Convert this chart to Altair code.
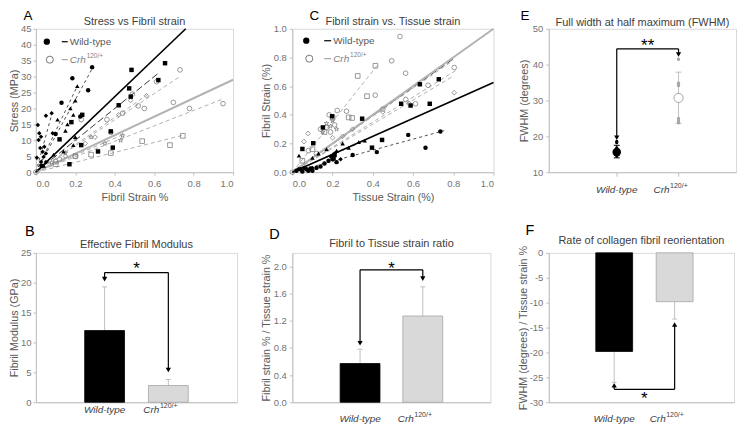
import altair as alt
import pandas as pd

FONT = "Liberation Sans"
WT_COLOR = "#000000"
CRH_FILL = "#d9d9d9"
CRH_EDGE = "#a6a6a6"
ERR_GREY = "#bfbfbf"
OPEN_GREY = "#7f7f7f"
DASH_GREY = "#a6a6a6"
STAR_PATH = "M0,-1L0.24,-0.33L0.95,-0.31L0.38,0.12L0.59,0.81L0,0.4L-0.59,0.81L-0.38,0.12L-0.95,-0.31L-0.24,-0.33Z"

# ---------------- Panel A : Stress vs Fibril strain ----------------
A_x_ticks = [0.0, 0.2, 0.4, 0.6, 0.8, 1.0]
A_y_ticks = [0, 5, 10, 15, 20, 25, 30, 35, 40, 45]

A_wt_diamond_x = [0.005, 0.01, 0.014, 0.017, 0.022, 0.026, 0.026, 0.034, 0.039, 0.043, 0.051, 0.051, 0.051, 0.08, 0.085]
A_wt_diamond_y = [4.5, 14.8, 10.1, 12.2, 7.6, 11.1, 3.2, 6.4, 4.8, 8.0, 5.9, 3.2, 17.7, 18.5, 12.2]
A_wt_circle_x = [0.03, 0.1, 0.13, 0.185, 0.225, 0.265, 0.285]
A_wt_circle_y = [2.0, 12.0, 21.8, 29.5, 17.5, 25.7, 32.9]
A_wt_triangle_x = [0.04, 0.09, 0.11, 0.14, 0.15, 0.16, 0.175, 0.19, 0.19, 0.2, 0.2, 0.21]
A_wt_triangle_y = [2.0, 5.5, 16.5, 6.5, 13.0, 15.0, 20.0, 8.5, 18.0, 11.0, 22.5, 27.0]
A_wt_square_x = [0.12, 0.17, 0.18, 0.23, 0.235, 0.315, 0.38, 0.39, 0.42, 0.473, 0.481, 0.485, 0.621, 0.655]
A_wt_square_y = [10.3, 2.5, 15.7, 8.5, 18.0, 6.5, 12.8, 7.7, 21.0, 26.3, 23.7, 32.1, 28.9, 34.2]

A_crh_circle_x = [0.0, 0.12, 0.2, 0.23, 0.36, 0.38, 0.44, 0.49, 0.519, 0.55, 0.612, 0.697, 0.731, 0.779, 0.949]
A_crh_circle_y = [0.0, 4.0, 5.0, 16.5, 16.5, 12.5, 18.5, 24.5, 20.8, 20.0, 28.4, 21.9, 32.1, 20.0, 21.5]
A_crh_diamond_x = [0.1, 0.15, 0.25, 0.3, 0.42, 0.48, 0.561]
A_crh_diamond_y = [3.5, 5.0, 9.0, 11.0, 18.0, 22.5, 24.0]
A_crh_square_x = [0.1, 0.2, 0.28, 0.38, 0.539, 0.68, 0.745]
A_crh_square_y = [2.5, 5.0, 5.5, 6.0, 9.75, 8.5, 11.4]
A_crh_star_x = [0.08, 0.15, 0.2, 0.28, 0.35, 0.43, 0.44]
A_crh_star_y = [3.0, 6.0, 10.5, 11.0, 9.0, 10.0, 11.5]

A_wt_fit_x2 = [0.08, 0.29, 0.21]
A_wt_fit_y2 = [18.0, 33.0, 27.0]
A_wt_longfit_x2 = [0.62]
A_wt_longfit_y2 = [31.0]
A_crh_fit_x2 = [0.73, 0.95, 0.57, 0.74, 0.45]
A_crh_fit_y2 = [30.0, 23.0, 24.5, 11.5, 12.0]
A_wt_mean_end = [0.76, 45.0]
A_crh_mean_end = [1.0, 29.0]

# ---------------- Panel C : Fibril strain vs Tissue strain ----------------
C_ticks = [0.0, 0.2, 0.4, 0.6, 0.8, 1.0]

C_wt_circle_x = [0.02, 0.04, 0.05, 0.06, 0.07, 0.08, 0.09, 0.1, 0.12, 0.14, 0.16, 0.18, 0.2, 0.22, 0.3, 0.42, 0.576, 0.662, 0.736]
C_wt_circle_y = [0.01, 0.02, 0.005, 0.03, 0.02, 0.01, 0.025, 0.01, 0.03, 0.04, 0.06, 0.08, 0.09, 0.07, 0.12, 0.14, 0.26, 0.171, 0.284]
C_wt_square_x = [0.05, 0.104, 0.152, 0.198, 0.205, 0.21, 0.347, 0.396, 0.446, 0.541, 0.588, 0.634, 0.683, 0.728]
C_wt_square_y = [0.162, 0.202, 0.312, 0.39, 0.1, 0.12, 0.373, 0.171, 0.225, 0.477, 0.465, 0.613, 0.477, 0.648]
C_wt_triangle_x = [0.033, 0.1, 0.13, 0.17, 0.2, 0.22, 0.25, 0.28, 0.33, 0.36]
C_wt_triangle_y = [0.115, 0.1, 0.13, 0.16, 0.12, 0.15, 0.2, 0.17, 0.21, 0.22]
C_wt_diamond_x = [0.03, 0.06, 0.08, 0.1, 0.19, 0.21, 0.24]
C_wt_diamond_y = [0.02, 0.03, 0.01, 0.03, 0.11, 0.13, 0.09]

C_crh_circle_x = [0.0, 0.08, 0.12, 0.14, 0.17, 0.183, 0.19, 0.21, 0.223, 0.269, 0.412, 0.45, 0.494, 0.535, 0.563, 0.564, 0.612, 0.675, 0.805]
C_crh_circle_y = [0.0, 0.15, 0.13, 0.3, 0.31, 0.4, 0.28, 0.33, 0.43, 0.425, 0.537, 0.44, 0.777, 0.946, 0.69, 0.507, 0.477, 0.606, 0.73]
C_crh_square_x = [0.05, 0.1, 0.16, 0.2, 0.28, 0.297, 0.325, 0.371, 0.413]
C_crh_square_y = [0.08, 0.16, 0.28, 0.38, 0.382, 0.378, 0.671, 0.53, 0.742]
C_crh_diamond_x = [0.058, 0.078, 0.2, 0.25, 0.3, 0.45, 0.58, 0.805]
C_crh_diamond_y = [0.213, 0.27, 0.24, 0.25, 0.3, 0.42, 0.48, 0.554]
C_crh_star_x = [0.15, 0.17, 0.19, 0.2, 0.22]
C_crh_star_y = [0.28, 0.34, 0.32, 0.36, 0.3]

C_wt_fit_x2 = [0.755, 0.36]
C_wt_fit_y2 = [0.29, 0.22]
C_wt_longfit_x2 = [0.8]
C_wt_longfit_y2 = [0.79]
C_crh_fit_x2 = [0.825, 0.8, 0.42, 0.8]
C_crh_fit_y2 = [0.72, 0.67, 0.74, 0.78]
C_wt_mean_end = [1.0, 0.625]
C_crh_mean_end = [1.0, 1.0]

# ---------------- Panel E : FWHM ----------------
E_y_ticks = [10, 20, 30, 40, 50]
E_wt_mean, E_wt_err = 15.6, [14.0, 17.5]
E_wt_points = [18.6, 18.2, 16.8, 15.2, 14.5]
E_crh_mean, E_crh_err = 30.7, [23.6, 37.9]
E_crh_points = [41.5, 34.8, 34.2, 25.0, 24.3, 23.8]
E_sig = dict(top=44.4, wt_tri=19.6, crh_tri=42.8, star=43.9, label="**")

# ---------------- Panels B, D, F : bars ----------------
B_y_ticks = [0, 5, 10, 15, 20, 25]
B_means = [12.0, 2.8]
B_err_end = [19.3, 3.8]
B_sig = dict(top=21.7, wt_tri=20.6, crh_tri=5.4, star=21.4, label="*")

D_y_ticks = [0.0, 0.4, 0.8, 1.2, 1.6, 2.0]
D_means = [0.57, 1.27]
D_err_end = [0.78, 1.70]
D_sig = dict(top=1.95, wt_tri=0.87, crh_tri=1.82, star=1.89, label="*")

F_y_ticks = [0, -5, -10, -15, -20, -25, -30]
F_means = [-19.8, -9.8]
F_err_end = [-26.0, -13.3]
F_sig = dict(top=-27.4, wt_tri=-26.6, crh_tri=-14.4, star=-30.4, label="*")

group_pos = [1, 2]


# ---------------- helpers ----------------
def pts_df(xs, ys, shape):
    return pd.DataFrame({"x": xs, "y": ys, "shape": [shape] * len(xs)})


def seg_df(x2s, y2s):
    return pd.DataFrame({"x": [0.0] * len(x2s), "y": [0.0] * len(x2s), "x2": x2s, "y2": y2s})


def seg_layer(df, X, Y, color, width, dash=None):
    kw = dict(color=color, strokeWidth=width)
    if dash:
        kw["strokeDash"] = dash
    return alt.Chart(df).mark_rule(**kw).encode(x=X, y=Y, x2="x2:Q", y2="y2:Q")


def pt_layer(df, X, Y, filled, color, size, sw=0.8):
    return alt.Chart(df).mark_point(filled=filled, size=size, strokeWidth=sw, opacity=1).encode(
        x=X, y=Y, shape=alt.Shape("shape:N", scale=None), color=alt.value(color))


def text_px(txt, dx, dy, size=10, style="normal", color="#404040", align="left", baseline="middle"):
    return alt.Chart(pd.DataFrame({"t": [txt]})).mark_text(
        font=FONT, fontSize=size, fontStyle=style, color=color, align=align, baseline=baseline
    ).encode(x=alt.value(dx), y=alt.value(dy), text="t:N")


def letter(txt, dx, dy, size=14.5):
    return text_px(txt, dx, dy, size=size, color="#000000", align="center")


def title_text(txt, W, dy):
    return text_px(txt, W / 2, dy, size=11, color="#404040", align="center")


def legend_layers(cx1, cy1, cx2, cy2, lx1, lx2, tx):
    wt_sym = alt.Chart(pd.DataFrame({"s": ["circle"]})).mark_point(filled=True, size=40, opacity=1, color="black").encode(
        x=alt.value(cx1), y=alt.value(cy1), shape=alt.Shape("s:N", scale=None))
    crh_sym = alt.Chart(pd.DataFrame({"s": ["circle"]})).mark_point(filled=False, size=50, opacity=1, color="#555555", strokeWidth=0.8).encode(
        x=alt.value(cx2), y=alt.value(cy2), shape=alt.Shape("s:N", scale=None))
    wt_ln = alt.Chart(pd.DataFrame({"s": [0]})).mark_rule(color="black", strokeWidth=1.2).encode(
        x=alt.value(lx1), x2=alt.value(lx2), y=alt.value(cy1))
    crh_ln = alt.Chart(pd.DataFrame({"s": [0]})).mark_rule(color=DASH_GREY, strokeWidth=1.2).encode(
        x=alt.value(lx1), x2=alt.value(lx2), y=alt.value(cy2))
    return [wt_sym, crh_sym, wt_ln, crh_ln,
            text_px("Wild-type", tx, cy1, size=10, color="#595959"),
            text_px("Crh", tx, cy2, size=10, style="italic", color="#7f7f7f"),
            text_px("120/+", tx + 17, cy2 - 4, size=6.5, color="#7f7f7f")]


def cat_labels(X, below, dx_crh=-9):
    wt = alt.Chart(pd.DataFrame({"x": [group_pos[0]], "t": ["Wild-type"]})).mark_text(
        font=FONT, fontSize=10, fontStyle="italic", color="#404040", baseline="middle").encode(
        x=X, y=alt.value(below), text="t:N")
    crh = alt.Chart(pd.DataFrame({"x": [group_pos[1]], "t": ["Crh"]})).mark_text(
        font=FONT, fontSize=10, fontStyle="italic", color="#404040", baseline="middle", align="right", dx=dx_crh).encode(
        x=X, y=alt.value(below), text="t:N")
    sup = alt.Chart(pd.DataFrame({"x": [group_pos[1]], "t": ["120/+"]})).mark_text(
        font=FONT, fontSize=7, color="#404040", baseline="middle", align="left", dx=dx_crh + 0.5, dy=-4).encode(
        x=X, y=alt.value(below), text="t:N")
    return [wt, crh, sup]


def sig_layers(X, Y, sig, up=False):
    top = sig["top"]
    vdf = pd.DataFrame({"x": group_pos, "y": [top, top], "y2": [sig["wt_tri"], sig["crh_tri"]]})
    hdf = pd.DataFrame({"x": [group_pos[0]], "x2": [group_pos[1]], "y": [top]})
    tdf = pd.DataFrame({"x": group_pos, "y": [sig["wt_tri"], sig["crh_tri"]],
                        "s": ["triangle-up" if up else "triangle-down"] * 2})
    sdf = pd.DataFrame({"x": [1.5], "y": [sig["star"]], "t": [sig["label"]]})
    v = alt.Chart(vdf).mark_rule(color="black", strokeWidth=1.2).encode(x=X, y=Y, y2="y2:Q")
    h = alt.Chart(hdf).mark_rule(color="black", strokeWidth=1.2).encode(x=X, x2="x2:Q", y=Y)
    t = alt.Chart(tdf).mark_point(filled=True, size=28, opacity=1, color="black").encode(
        x=X, y=Y, shape=alt.Shape("s:N", scale=None))
    s = alt.Chart(sdf).mark_text(font=FONT, fontSize=17, color="#000000", baseline="alphabetic").encode(
        x=X, y=Y, text="t:N")
    return [v, h, t, s]


# ---------------- Panel A ----------------
A_W, A_H = 198, 144
A_X = alt.X("x:Q", scale=alt.Scale(domain=[0, 1], nice=False, zero=False),
            axis=alt.Axis(values=A_x_ticks, format=".1f", title="Fibril Strain %", titlePadding=4, labelPadding=3))
A_Y = alt.Y("y:Q", scale=alt.Scale(domain=[0, 45], nice=False),
            axis=alt.Axis(values=A_y_ticks, title="Stress (MPa)", titlePadding=0.5, labelPadding=2))

A_layers = [
    seg_layer(seg_df(A_crh_fit_x2, A_crh_fit_y2), A_X, A_Y, DASH_GREY, 0.9, [4, 3]),
    seg_layer(seg_df(A_wt_fit_x2, A_wt_fit_y2), A_X, A_Y, "#222222", 0.8, [3, 3]),
    seg_layer(seg_df(A_wt_longfit_x2, A_wt_longfit_y2), A_X, A_Y, "#222222", 0.9, [7, 3]),
    seg_layer(seg_df([A_crh_mean_end[0]], [A_crh_mean_end[1]]), A_X, A_Y, "#b3b3b3", 2.0),
    seg_layer(seg_df([A_wt_mean_end[0]], [A_wt_mean_end[1]]), A_X, A_Y, "black", 1.6),
    pt_layer(pd.concat([pts_df(A_crh_circle_x, A_crh_circle_y, "circle"),
                        pts_df(A_crh_diamond_x, A_crh_diamond_y, "diamond"),
                        pts_df(A_crh_square_x, A_crh_square_y, "square"),
                        pts_df(A_crh_star_x, A_crh_star_y, STAR_PATH)]), A_X, A_Y, False, OPEN_GREY, 22),
    pt_layer(pd.concat([pts_df(A_wt_diamond_x, A_wt_diamond_y, "diamond"),
                        pts_df(A_wt_circle_x, A_wt_circle_y, "circle"),
                        pts_df(A_wt_triangle_x, A_wt_triangle_y, "triangle-up"),
                        pts_df(A_wt_square_x, A_wt_square_y, "square")]), A_X, A_Y, True, "black", 20),
    letter("A", -8, -12.5, 13.5),
    title_text("Stress vs Fibril strain", A_W, -6.5),
] + legend_layers(11, 13, 14, 31, 26, 32, 34)
panel_A = alt.layer(*A_layers).properties(width=A_W, height=A_H)

# ---------------- Panel C ----------------
C_W, C_H = 202, 144
C_X = alt.X("x:Q", scale=alt.Scale(domain=[0, 1], nice=False, zero=False),
            axis=alt.Axis(values=C_ticks, format=".1f", title="Tissue Strain (%)", titlePadding=4, labelPadding=3))
C_Y = alt.Y("y:Q", scale=alt.Scale(domain=[0, 1], nice=False),
            axis=alt.Axis(values=C_ticks, format=".1f", title="Fibril Strain (%)", titlePadding=2, labelPadding=3))
C_layers = [
    seg_layer(seg_df(C_crh_fit_x2, C_crh_fit_y2), C_X, C_Y, DASH_GREY, 0.9, [4, 3]),
    seg_layer(seg_df(C_wt_fit_x2, C_wt_fit_y2), C_X, C_Y, "#222222", 0.8, [3, 3]),
    seg_layer(seg_df(C_wt_longfit_x2, C_wt_longfit_y2), C_X, C_Y, "#222222", 0.9, [7, 3]),
    seg_layer(seg_df([C_crh_mean_end[0]], [C_crh_mean_end[1]]), C_X, C_Y, "#b3b3b3", 2.0),
    seg_layer(seg_df([C_wt_mean_end[0]], [C_wt_mean_end[1]]), C_X, C_Y, "black", 1.6),
    pt_layer(pd.concat([pts_df(C_crh_circle_x, C_crh_circle_y, "circle"),
                        pts_df(C_crh_diamond_x, C_crh_diamond_y, "diamond"),
                        pts_df(C_crh_square_x, C_crh_square_y, "square"),
                        pts_df(C_crh_star_x, C_crh_star_y, STAR_PATH)]), C_X, C_Y, False, OPEN_GREY, 22),
    pt_layer(pd.concat([pts_df(C_wt_diamond_x, C_wt_diamond_y, "diamond"),
                        pts_df(C_wt_circle_x, C_wt_circle_y, "circle"),
                        pts_df(C_wt_triangle_x, C_wt_triangle_y, "triangle-up"),
                        pts_df(C_wt_square_x, C_wt_square_y, "square")]), C_X, C_Y, True, "black", 20),
    letter("C", 22, -12.5, 13.5),
    title_text("Fibril strain vs. Tissue strain", C_W, -7),
] + legend_layers(14, 12, 17, 30, 32, 39, 41)
panel_C = alt.layer(*C_layers).properties(width=C_W, height=C_H)

# ---------------- Panel E ----------------
E_W, E_H = 188, 144
E_X = alt.X("x:Q", scale=alt.Scale(domain=[-0.1, 2.93], nice=False, zero=False),
            axis=alt.Axis(values=group_pos, labels=False, title=None, tickSize=4))
E_Y = alt.Y("y:Q", scale=alt.Scale(domain=[10, 50], nice=False, zero=False),
            axis=alt.Axis(values=E_y_ticks, title="FWHM (degrees)", titlePadding=3, labelPadding=3))
E_err = pd.DataFrame({"x": group_pos, "y": [E_wt_err[0], E_crh_err[0]], "y2": [E_wt_err[1], E_crh_err[1]],
                      "c": ["black", ERR_GREY]})
E_caps = pd.DataFrame({"x": group_pos * 2, "y": [E_wt_err[0], E_crh_err[0], E_wt_err[1], E_crh_err[1]],
                       "c": ["black", ERR_GREY, "black", ERR_GREY]})
E_small_wt = pd.DataFrame({"x": [1] * len(E_wt_points), "y": E_wt_points})
E_small_crh = pd.DataFrame({"x": [2] * len(E_crh_points), "y": E_crh_points})
E_layers = [
    alt.Chart(E_err).mark_rule(strokeWidth=1).encode(x=E_X, y=E_Y, y2="y2:Q", color=alt.Color("c:N", scale=None)),
    alt.Chart(E_caps).mark_tick(orient="horizontal", size=6, thickness=1, opacity=1).encode(
        x=E_X, y=E_Y, color=alt.Color("c:N", scale=None)),
    alt.Chart(E_small_crh).mark_point(filled=True, size=12, opacity=1, color="#a6a6a6").encode(x=E_X, y=E_Y),
    alt.Chart(E_small_wt).mark_point(filled=True, size=10, opacity=1, color="black").encode(x=E_X, y=E_Y),
    alt.Chart(pd.DataFrame({"x": [1], "y": [E_wt_mean]})).mark_point(filled=True, size=75, opacity=1, color="black").encode(x=E_X, y=E_Y),
    alt.Chart(pd.DataFrame({"x": [2], "y": [E_crh_mean]})).mark_point(filled=True, size=85, opacity=1, color="white",
                                                                         stroke="#a6a6a6", strokeWidth=1).encode(x=E_X, y=E_Y),
    letter("E", -24, -12.5, 13.5),
    title_text("Full width at half maximum (FWHM)", E_W, -6),
] + sig_layers(E_X, E_Y, E_sig) + cat_labels(E_X, E_H + 18)
panel_E = alt.layer(*E_layers).properties(width=E_W, height=E_H)


# ---------------- bar panels ----------------
def bar_panel(name, title, ytitle, W, H, xdom, ydom, yticks, yfmt, means, err_end, sig, up, barsize,
              lab_below, let_dx, let_dy, title_dy, ytitle_pad, lab_pad=3, label_expr=None):
    X = alt.X("x:Q", scale=alt.Scale(domain=xdom, nice=False, zero=False),
              axis=alt.Axis(values=group_pos, labels=False, title=None, ticks=False))
    ax_kw = dict(values=yticks, title=ytitle, titlePadding=ytitle_pad, labelPadding=lab_pad)
    if yfmt:
        ax_kw["format"] = yfmt
    if label_expr:
        ax_kw["labelExpr"] = label_expr
    Y = alt.Y("y:Q", scale=alt.Scale(domain=ydom, nice=False), axis=alt.Axis(**ax_kw))
    bars = pd.DataFrame({"x": group_pos, "y": means, "c": [WT_COLOR, CRH_FILL], "s": [WT_COLOR, CRH_EDGE]})
    err = pd.DataFrame({"x": group_pos, "y": means, "y2": err_end})
    cap = pd.DataFrame({"x": group_pos, "y": err_end})
    layers = [
        alt.Chart(err).mark_rule(color=ERR_GREY, strokeWidth=1).encode(x=X, y=Y, y2="y2:Q"),
        alt.Chart(cap).mark_tick(orient="horizontal", size=5, thickness=1, color=ERR_GREY, opacity=1).encode(x=X, y=Y),
        alt.Chart(bars).mark_bar(size=barsize, strokeWidth=0.8).encode(
            x=X, y=Y, color=alt.Color("c:N", scale=None), stroke=alt.Stroke("s:N", scale=None)),
        letter(name, let_dx, let_dy),
        title_text(title, W, title_dy),
    ] + sig_layers(X, Y, sig, up) + cat_labels(X, H + lab_below)
    return alt.layer(*layers).properties(width=W, height=H)


panel_B = bar_panel("B", "Effective Fibril Modulus", "Fibril Modulus (GPa)", 202, 150, [0, 3], [0, 25],
                    B_y_ticks, None, B_means, B_err_end, B_sig, False, 40, 8, -6, -21, -7.5, 0.5, lab_pad=2)
panel_D = bar_panel("D", "Fibril to Tissue strain ratio", "Fibril strain % / Tissue strain %", 199, 150, [0, 3],
                    [0, 2.2], D_y_ticks, ".1f", D_means, D_err_end, D_sig, False, 40, 17, -18, -18, -8.5, 2)
panel_F = bar_panel("F", "Rate of collagen fibril reorientation", "FWHM (degrees) / Tissue strain %", 186, 150,
                    [0, 2.9], [-30, 0], F_y_ticks, "d", F_means, F_err_end, F_sig, True, 37, 17, -19, -22, -12, 1,
                    label_expr="replace(datum.label, '\u2212', '-')")

chart = alt.concat(panel_A, panel_C, panel_E, panel_B, panel_D, panel_F, columns=3,
                   spacing={"row": 81, "column": 55.5}, bounds="flush", align="each").properties(
    padding={"left": 0, "top": 0, "right": 0, "bottom": 0}
).configure_view(stroke="#d9d9d9", strokeWidth=1).configure_axis(
    labelFont=FONT, titleFont=FONT, labelFontSize=9.5, titleFontSize=10.8, titleFontWeight="normal",
    labelColor="#737373", titleColor="#595959", domainColor="#bfbfbf", tickColor="#bfbfbf",
    tickSize=3, grid=False
)

chart.save("out.html", embed_options={"renderer": "svg", "actions": False})
